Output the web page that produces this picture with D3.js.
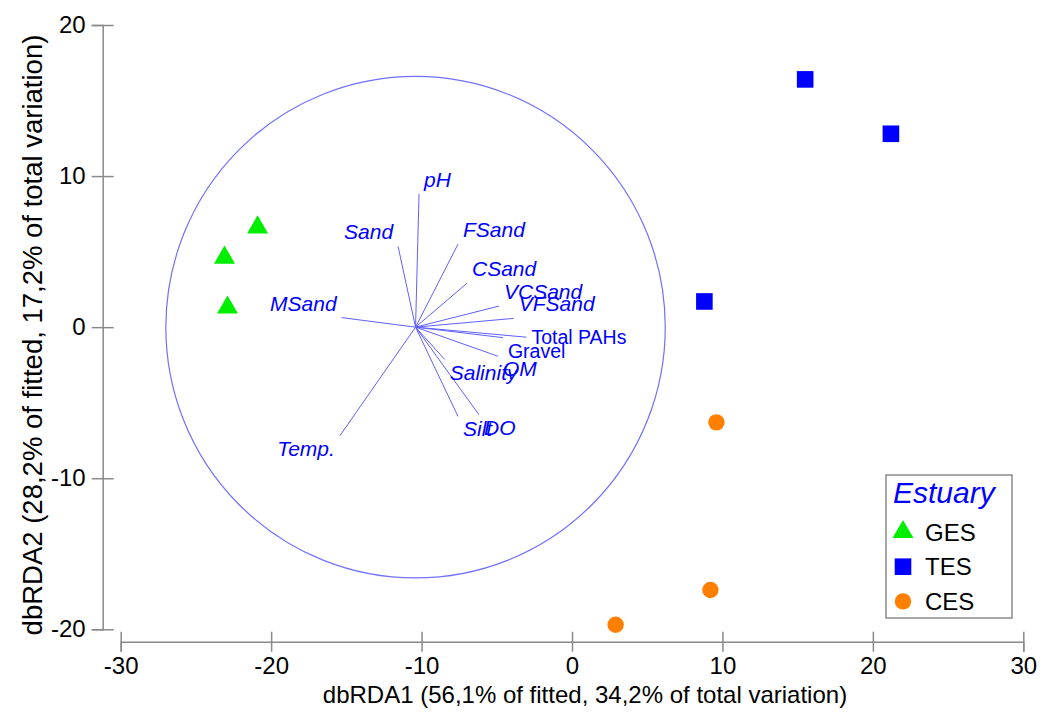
<!DOCTYPE html>
<html>
<head>
<meta charset="utf-8">
<script src="https://cdn.jsdelivr.net/npm/d3@7/dist/d3.min.js"></script>
<style>
  body { margin: 0; background: #fff; }
  text { font-family: "Liberation Sans", Arial, sans-serif; }
</style>
</head>
<body>
<div id="graph"></div>
<script>
/* Data */
const estuaries = ["GES", "TES", "CES"];
const gesPoints = [[-20.9, 6.6], [-23.1, 4.6], [-22.9, 1.3]];
const tesPoints = [[15.5, 16.4], [21.2, 12.8], [8.8, 1.7]];
const cesPoints = [[9.6, -6.3], [9.2, -17.4], [2.9, -19.7]];

const vectorNames = ["pH", "Sand", "FSand", "CSand", "VCSand", "VFSand", "Total PAHs",
  "Gravel", "OM", "Salinity", "DO", "Silt", "Temp.", "MSand"];
const vectorX = [0.014, -0.070, 0.170, 0.206, 0.334, 0.393, 0.444, 0.350, 0.330, 0.117, 0.254, 0.170, -0.303, -0.296];
const vectorY = [0.531, 0.322, 0.331, 0.175, 0.084, 0.035, -0.040, -0.042, -0.116, -0.129, -0.349, -0.356, -0.433, 0.038];

const circleCentre = [-10.4, 0];
const circleRadius = 16.6;

const xTicks = [-30, -20, -10, 0, 10, 20, 30];
const yTicks = [-20, -10, 0, 10, 20];
const xTitle = "dbRDA1 (56,1% of fitted, 34,2% of total variation)";
const yTitle = "dbRDA2 (28,2% of fitted, 17,2% of total variation)";

window.addEventListener("DOMContentLoaded", main)

function main() {
    const W = 1042, H = 715;
    const svg = d3.select("#graph").append("svg").attr("width", W).attr("height", H)

    const axisColor = "#8a8a8a"
    const vecColor = "#0000ff"
    const upright = ["Total PAHs", "Gravel"]
    const font = "'Liberation Sans', Arial, sans-serif"

    const x = d3.scaleLinear().domain([-30, 30]).range([120.7, 1023.3]);
    const y = d3.scaleLinear().domain([-20, 20]).range([629.3, 25]);

    /* X axis */
    const gx = svg.append("g")
        .attr("transform", "translate(0,641.7)")
        .call(d3.axisBottom(x).tickValues(xTicks).tickSizeOuter(0).tickSize(10).tickPadding(5).tickFormat(d => String(d)));
    gx.selectAll(".tick line").attr("y1", -10).attr("y2", 10);
    gx.selectAll("path, line").attr("stroke", axisColor).attr("stroke-width", 1.5);
    gx.selectAll("text").attr("font-size", 24).attr("fill", "#000").attr("font-family", font);

    /* Y axis */
    const gy = svg.append("g")
        .attr("transform", "translate(102.7,0)")
        .call(d3.axisLeft(y).tickValues(yTicks).tickSizeOuter(0).tickSize(11).tickPadding(6).tickFormat(d => String(d)));
    gy.selectAll(".tick line").attr("x1", -11).attr("x2", 11);
    gy.selectAll("path, line").attr("stroke", axisColor).attr("stroke-width", 1.5);
    gy.selectAll("text").attr("font-size", 24).attr("fill", "#000").attr("font-family", font);

    /* Titles */
    svg.append("text").attr("x", 585).attr("y", 703).attr("text-anchor", "middle")
        .attr("font-size", 24).text(xTitle);
    svg.append("text").attr("transform", "translate(42,335) rotate(-90)").attr("text-anchor", "middle")
        .attr("font-size", 27.5).text(yTitle);

    /* Correlation circle */
    const cx = x(circleCentre[0]), cy = y(circleCentre[1]);
    svg.append("ellipse")
        .attr("cx", cx).attr("cy", cy)
        .attr("rx", x(circleCentre[0] + circleRadius) - cx)
        .attr("ry", cy - y(circleCentre[1] + circleRadius))
        .attr("fill", "none").attr("stroke", "#7070ff").attr("stroke-width", 1.2);

    /* Vectors */
    const vectors = vectorNames.map((n, i) => ({
        name: n,
        ex: x(circleCentre[0] + vectorX[i] * circleRadius),
        ey: y(circleCentre[1] + vectorY[i] * circleRadius),
        dx: vectorX[i], dy: vectorY[i]
    }))

    svg.selectAll(".vec").data(vectors).enter().append("line")
        .attr("class", "vec")
        .attr("x1", cx).attr("y1", cy)
        .attr("x2", d => d.ex).attr("y2", d => d.ey)
        .attr("stroke", "#6060ff").attr("stroke-width", 1);

    // label sits above the tip for upward vectors, below for downward ones,
    // and level with the tip when the vector is almost flat and points down-right
    function labelY(d) {
        if (d.dy >= 0) return d.ey - 7;
        if (d.dx > 0 && Math.abs(d.dy / d.dx) < 0.1) return d.ey + 7;
        return d.ey + 20;
    }

    svg.selectAll(".vlab").data(vectors).enter().append("text")
        .attr("class", "vlab")
        .attr("x", d => d.dx >= 0 ? d.ex + 5 : d.ex - 5)
        .attr("y", labelY)
        .attr("text-anchor", d => d.dx >= 0 ? "start" : "end")
        .attr("font-size", d => upright.includes(d.name) ? 19.5 : 21)
        .attr("font-style", d => upright.includes(d.name) ? "normal" : "italic")
        .attr("fill", vecColor)
        .text(d => d.name);

    /* Points */
    const tri = d3.symbol().type(d3.symbolTriangle).size(190);
    svg.selectAll(".ges").data(gesPoints).enter().append("path")
        .attr("class", "ges")
        .attr("d", tri)
        .attr("transform", d => "translate(" + x(d[0]) + "," + y(d[1]) + ")")
        .attr("fill", "#00ee00");

    svg.selectAll(".tes").data(tesPoints).enter().append("rect")
        .attr("class", "tes")
        .attr("x", d => x(d[0]) - 8.3).attr("y", d => y(d[1]) - 8.3)
        .attr("width", 16.6).attr("height", 16.6)
        .attr("fill", "#0000ff");

    svg.selectAll(".ces").data(cesPoints).enter().append("circle")
        .attr("class", "ces")
        .attr("cx", d => x(d[0])).attr("cy", d => y(d[1]))
        .attr("r", 8.2)
        .attr("fill", "#ff8000");

    /* Legend */
    const legend = svg.append("g").attr("id", "legend");
    legend.append("rect").attr("x", 886).attr("y", 475).attr("width", 126).attr("height", 143)
        .attr("fill", "#fff").attr("stroke", axisColor).attr("stroke-width", 1.5);
    legend.append("text").attr("x", 893).attr("y", 503).attr("font-size", 30)
        .attr("font-style", "italic").attr("fill", vecColor).text("Estuary");

    const items = legend.selectAll(".legend-item").data(estuaries).enter().append("g")
        .attr("class", "legend-item")
        .attr("transform", (d, i) => "translate(903," + (532 + i * 34.7) + ")");
    items.each(function (d, i) {
        const g = d3.select(this);
        if (i == 0) g.append("path").attr("d", tri).attr("fill", "#00ee00");
        if (i == 1) g.append("rect").attr("x", -8.3).attr("y", -8.3).attr("width", 16.6).attr("height", 16.6).attr("fill", "#0000ff");
        if (i == 2) g.append("circle").attr("r", 8.2).attr("fill", "#ff8000");
    });
    items.append("text").attr("x", 22).attr("y", 8.7).attr("font-size", 24).attr("fill", "#000").text(d => d);
}
</script>
</body>
</html>
